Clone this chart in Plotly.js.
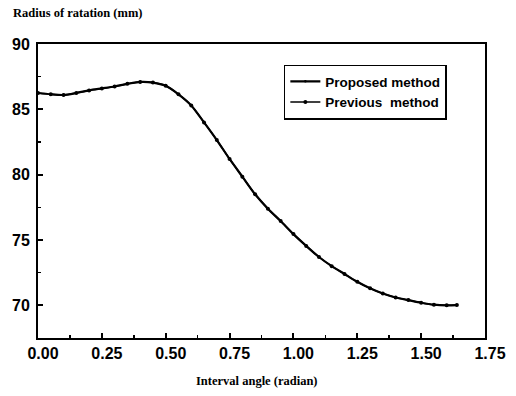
<!DOCTYPE html>
<html>
<head>
<meta charset="utf-8">
<script src="https://cdn.plot.ly/plotly-3.0.1.min.js"></script>
<style>html,body{margin:0;padding:0;background:#fff;}#chart{width:516px;height:396px;}</style>
</head>
<body>
<div id="chart"></div>
<script>
const seriesNames = ['Proposed method', 'Previous  method'];
const intervalAngle = [0, 0.05, 0.10, 0.15, 0.20, 0.25, 0.30, 0.35, 0.40, 0.45, 0.50, 0.55, 0.60, 0.65, 0.70, 0.75, 0.80, 0.85, 0.90, 0.95, 1.00, 1.05, 1.10, 1.15, 1.20, 1.25, 1.30, 1.35, 1.40, 1.45, 1.50, 1.55, 1.60, 1.64];
const radiusProposed = [86.25, 86.15, 86.1, 86.25, 86.45, 86.6, 86.75, 86.95, 87.1, 87.05, 86.8, 86.15, 85.3, 84.0, 82.65, 81.2, 79.85, 78.5, 77.4, 76.45, 75.45, 74.55, 73.7, 73.0, 72.4, 71.8, 71.3, 70.9, 70.6, 70.4, 70.2, 70.05, 70.0, 70.02];
const radiusPrevious = [86.25, 86.15, 86.1, 86.25, 86.45, 86.6, 86.75, 86.95, 87.1, 87.05, 86.8, 86.15, 85.3, 84.0, 82.65, 81.2, 79.85, 78.5, 77.4, 76.45, 75.45, 74.55, 73.7, 73.0, 72.4, 71.8, 71.3, 70.9, 70.6, 70.4, 70.2, 70.05, 70.0, 70.02];
const xTicks = [0, 0.25, 0.5, 0.75, 1.0, 1.25, 1.5, 1.75];
const xTickLabels = ['0.00', '0.25', '0.50', '0.75', '1.00', '1.25', '1.50', '1.75'];
const yTicks = [70, 75, 80, 85, 90];

const traces = [
  {x: intervalAngle, y: radiusProposed, name: seriesNames[0], type: 'scatter', mode: 'lines+markers',
   line: {color: '#000', width: 2.2, shape: 'spline', smoothing: 0.8}, marker: {color: '#000', size: 2.5, symbol: 'circle'}},
  {x: intervalAngle, y: radiusPrevious, name: seriesNames[1], type: 'scatter', mode: 'lines+markers',
   line: {color: '#000', width: 1.5, shape: 'spline', smoothing: 0.8}, marker: {color: '#000', size: 4, symbol: 'circle'}}
];

const tickFont = {family: 'Liberation Sans, Arial, sans-serif', size: 16, color: '#000', weight: 'bold'};
const layout = {
  width: 516, height: 396,
  margin: {l: 38, r: 31, t: 44, b: 58},
  paper_bgcolor: '#fff', plot_bgcolor: '#fff',
  showlegend: true,
  legend: {x: 0.55, y: 0.93, xanchor: 'left', yanchor: 'top', bordercolor: '#000', borderwidth: 1.5,
    bgcolor: '#fff', font: {family: 'Liberation Sans, Arial, sans-serif', size: 13.5, color: '#000', weight: 'bold'},
    tracegroupgap: 0, itemwidth: 30},
  xaxis: {range: [0, 1.75], tickvals: xTicks, ticktext: xTickLabels, ticks: 'inside', ticklen: 5, tickwidth: 2,
    tickcolor: '#000', showline: true, linecolor: '#000', linewidth: 2, mirror: true, showgrid: false, zeroline: false,
    tickfont: tickFont, ticklabelshift: 5,
    minor: {dtick: 0.125, tick0: 0, ticks: 'inside', ticklen: 3, tickwidth: 1.5, tickcolor: '#000', showgrid: false}},
  yaxis: {range: [67.5, 90], tickvals: yTicks, ticks: 'inside', ticklen: 5, tickwidth: 2,
    tickcolor: '#000', showline: true, linecolor: '#000', linewidth: 2, mirror: true, showgrid: false, zeroline: false,
    tickfont: tickFont, ticklabelstandoff: 3,
    minor: {dtick: 2.5, tick0: 70, ticks: 'inside', ticklen: 3, tickwidth: 1.5, tickcolor: '#000', showgrid: false}},
  annotations: [
    {text: 'Radius of ratation (mm)', xref: 'paper', yref: 'paper', x: -0.06, y: 1.105, xanchor: 'left', yanchor: 'middle',
     showarrow: false, font: {family: 'Liberation Serif, Times New Roman, serif', size: 12.5, color: '#000', weight: 'bold'}},
    {text: 'Interval angle (radian)', xref: 'paper', yref: 'paper', x: 0.49, y: -0.145, xanchor: 'center', yanchor: 'middle',
     showarrow: false, font: {family: 'Liberation Serif, Times New Roman, serif', size: 12.5, color: '#000', weight: 'bold'}}
  ]
};
Plotly.newPlot('chart', traces, layout, {displayModeBar: false, staticPlot: true});
</script>
</body>
</html>
